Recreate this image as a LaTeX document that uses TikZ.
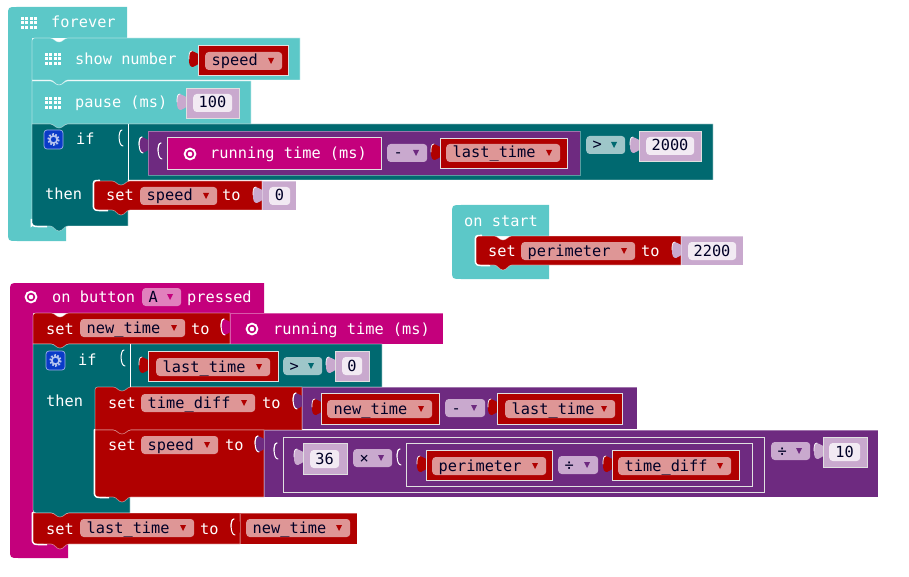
\documentclass[tikz,border=0pt]{standalone}
\usepackage{fontspec}
\setmainfont{DejaVu Sans Mono}
\usepackage{xcolor}
\usetikzlibrary{positioning,calc}

\definecolor{loopteal}{HTML}{5CC8C8}
\definecolor{logicteal}{HTML}{006970}
\definecolor{varred}{HTML}{B00000}
\definecolor{inputmag}{HTML}{C4007C}
\definecolor{mathpurple}{HTML}{6E2A80}
\definecolor{litlilac}{HTML}{C9A9CE}
\definecolor{gearblue}{HTML}{0A3BC8}
\definecolor{fieldred}{HTML}{DE9696}

\tikzset{
  lbl/.style={anchor=base west,inner sep=0pt,text=white,font=\fontsize{15.3}{18}\selectfont},
  fieldtxt/.style={lbl,text=black!85!blue},
  fieldbox/.style={rounded corners=3.5pt,minimum height=18pt,inner sep=0pt,anchor=west},
  valedge/.style={draw=white!88!black,line width=0.9pt},
  slotedge/.style={draw=white,draw opacity=0.35,line width=0.7pt},
  stmtedge/.style={draw=white,draw opacity=0.45,line width=0.7pt}
}

% statement block: colour, x1, y1, x2, y2, top radius, bottom radius
\newcommand{\stmtblock}[7]{
  \path[fill=#1,stmtedge] (#2,#5-#7) -- (#2,#3+#6) .. controls (#2,#3) .. (#2+#6,#3) -- (#2+18,#3)
    .. controls (#2+22,#3) and (#2+23,#3+4) .. (#2+27,#3+4) .. controls (#2+31,#3+4) and (#2+32,#3) .. (#2+36,#3)
    -- (#4,#3) -- (#4,#5) -- (#2+36,#5)
    .. controls (#2+32,#5) and (#2+31,#5+5) .. (#2+27,#5+5) .. controls (#2+23,#5+5) and (#2+22,#5) .. (#2+18,#5)
    -- (#2+#7,#5) .. controls (#2,#5) .. (#2,#5-#7) -- cycle;
}
% white rim on a left side
\newcommand{\leftrim}[5]{
  \draw[white,line width=1.4pt] (#1+#4,#2-0.6) .. controls (#1-0.7,#2-0.6) .. (#1-0.7,#2+#4) -- (#1-0.7,#3-#5)
    .. controls (#1-0.7,#3+0.7) .. (#1+#5+8,#3+0.7);
}
% puzzle bump on the left of a value
\newcommand{\bump}[3]{
  \fill[#1] (#2+0.5,#3+9) .. controls (#2-2,#3+9) and (#2-3,#3+6) .. (#2-6,#3+6)
    .. controls (#2-9,#3+6) and (#2-9,#3+10) .. (#2-9,#3+14)
    .. controls (#2-9,#3+20) and (#2-8,#3+22) .. (#2-5,#3+22)
    .. controls (#2-2,#3+22) and (#2-2,#3+19) .. (#2+0.5,#3+19) -- cycle;
  \draw[white,line width=0.7pt,line cap=round] (#2-6,#3+6) .. controls (#2-9,#3+6) and (#2-9,#3+10) .. (#2-9,#3+14);
}
\newcommand{\ghostarc}[2]{
  \draw[white,line width=1pt,line cap=round] (#1-6,#2+6) .. controls (#1-10,#2+6) and (#1-10,#2+22) .. (#1-5,#2+22);
}
\newcommand{\valblock}[6][valedge]{
  \bump{#2}{#3}{#4}
  \path[fill=#2,#1] (#3,#4) rectangle (#5,#6);
}
\newcommand{\hatblock}[9]{
  \fill[#1] (#2+9,#3) -- (#4,#3) -- (#4,#5) -- (#6,#5) -- (#6,#7) -- (#8,#7) -- (#8,#9) -- (#2+9,#9)
    .. controls (#2,#9) .. (#2,#9-9) -- (#2,#3+9) .. controls (#2,#3) .. (#2+9,#3) -- cycle;
}
% if block: x1, y1, right end, column right, row bottom, block bottom
\newcommand{\ifblock}[6]{
  \path[fill=logicteal,stmtedge] (#1,#6-7) -- (#1,#2) -- (#1+18,#2)
    .. controls (#1+22,#2) and (#1+23,#2+4) .. (#1+27,#2+4) .. controls (#1+31,#2+4) and (#1+32,#2) .. (#1+36,#2)
    -- (#3,#2) -- (#3,#5) -- (#4,#5) -- (#4,#6) -- (#1+36,#6)
    .. controls (#1+32,#6) and (#1+31,#6+5) .. (#1+27,#6+5) .. controls (#1+23,#6+5) and (#1+22,#6) .. (#1+18,#6)
    -- (#1+7,#6) .. controls (#1,#6) .. (#1,#6-7) -- cycle;
  \draw[white,line width=0.9pt] (#4,#2) -- (#4,#5);
  \ghostarc{#4}{#2}
}
% dropdown: name, x1, x2, y centre, fill, arrow colour, text
\newcommand{\ddfield}[7]{
  \node[fieldbox,fill=#5,minimum width=#3pt-#2pt] (#1) at (#2,#4) {};
  \node[fieldtxt] (#1txt) at (#2+6.5,#4+5) {#7};
  \fill[#6] (#3-14,#4-3) -- (#3-8,#4-3) -- (#3-11,#4+3) -- cycle;
}
\newcommand{\litfield}[5]{
  \node[fieldbox,fill=white!75!litlilac,minimum width=#3pt-#2pt] (#1) at (#2,#4) {};
  \node[fieldtxt,anchor=base] (#1txt) at (#2/2+#3/2,#4+5) {#5};
}
\newcommand{\gridicon}[2]{
  \foreach \gx in {0,1,2,3} \foreach \gy in {0,1,2}
    \fill[white] (#1+\gx*4.3,#2+\gy*4.3) rectangle ++(3.1,3.1);
}
\newcommand{\ringicon}[2]{
  \draw[white,line width=1.9pt] (#1,#2) circle (5.4);
  \fill[white] (#1,#2) circle (2.3);
}
\newcommand{\gearicon}[2]{
  \fill[gearblue,draw=white!60!gearblue,line width=0.7pt,rounded corners=3pt] (#1,#2) rectangle ++(19,19);
  \draw[white!70!gearblue,line width=2.2pt,dash pattern=on 1.8pt off 1.4pt] (#1+9.5,#2+9.5) circle (5.2);
  \draw[white!70!gearblue,line width=1.6pt] (#1+9.5,#2+9.5) circle (3.6);
}

\begin{document}
\begin{tikzpicture}[x=1pt,y=-1pt]
\useasboundingbox (0,0) rectangle (909,577);

\hatblock{loopteal}{8}{7}{127}{38}{32}{226}{66}{241}
\hatblock{loopteal}{452}{205}{549}{236}{476}{265}{549}{279}
\hatblock{inputmag}{10}{283}{264}{313}{33}{544}{68}{558}

\gridicon{21}{17}
\node[lbl] (foreverlbl) at (51,28) {forever};

\stmtblock{loopteal}{32}{38}{300}{80}{6}{0}
\gridicon{45}{53}
\node[lbl] (shownum) at (75,65) {show number};
\valblock{varred}{198}{45}{288}{75}
\ddfield{speedA}{205}{282}{61}{fieldred}{varred}{speed}

\stmtblock{loopteal}{32}{81}{251}{124}{0}{0}
\gridicon{45}{97}
\node[lbl] (pauselbl) at (75,108) {pause (ms)};
\valblock{litlilac}{186}{88}{239}{118}
\litfield{hundred}{193}{232}{103}{100}

\ifblock{32}{124}{713}{128}{180}{226}
\leftrim{32}{226}{226}{0}{7}
\gearicon{44}{130}
\node[lbl] (ifa) at (76,145) {if};
\node[lbl] (thena) at (45,200) {then};
\valblock[slotedge]{mathpurple}{148}{131}{580}{175}
\ghostarc{148}{131}
\bump{mathpurple}{167}{137}
\ghostarc{167}{137}
\path[fill=inputmag,valedge] (167,137) rectangle (381,169);
\ringicon{190}{154}
\node[lbl] (runa) at (210,159) {running time (ms)};
\ddfield{minusa}{387}{427}{153}{litlilac}{mathpurple}{-}
\valblock{varred}{440}{138}{567}{168}
\ddfield{lasta}{446}{560}{153}{fieldred}{varred}{last\_time}
\ddfield{gta}{586}{625}{145}{white!62!logicteal}{logicteal}{>}
\valblock{litlilac}{639}{131}{701}{161}
\litfield{twothousand}{646}{694}{146}{2000}

\stmtblock{varred}{94}{181}{262}{210}{6}{6}
\leftrim{94}{181}{210}{6}{6}
\node[lbl] (seta) at (106,201) {set};
\ddfield{speedB}{140}{217}{196}{fieldred}{varred}{speed}
\node[lbl] (toa) at (222,201) {to};
\valblock[slotedge]{litlilac}{262}{181}{296}{210}
\litfield{zeroa}{269}{290}{196}{0}

\node[lbl] (onstart) at (464,226) {on start};
\stmtblock{varred}{476}{236}{681}{265}{6}{6}
\leftrim{476}{236}{265}{6}{6}
\node[lbl] (setb) at (488,256) {set};
\ddfield{perimA}{521}{635}{251}{fieldred}{varred}{perimeter}
\node[lbl] (tob) at (641,256) {to};
\valblock[slotedge]{litlilac}{681}{236}{743}{265}
\litfield{twotwo}{688}{736}{251}{2200}

\ringicon{31}{297}
\node[lbl] (onbutton) at (52,302) {on button};
\ddfield{btnA}{142}{181}{297}{white!50!inputmag}{inputmag}{A}
\node[lbl] (pressed) at (187,302) {pressed};

\stmtblock{varred}{33}{313}{230}{344}{6}{0}
\node[lbl] (setc) at (46,334) {set};
\ddfield{newA}{80}{185}{328}{fieldred}{varred}{new\_time}
\node[lbl] (toc) at (191,334) {to};
\valblock[slotedge]{inputmag}{230}{313}{443}{344}
\ghostarc{230}{313}
\ringicon{252}{329}
\node[lbl] (runb) at (273,334) {running time (ms)};

\ifblock{33}{344}{382}{130}{387}{513}
\gearicon{46}{351}
\node[lbl] (ifb) at (78,365) {if};
\node[lbl] (thenb) at (46,406) {then};
\valblock{varred}{148}{351}{278}{381}
\ddfield{lastb}{156}{270}{367}{fieldred}{varred}{last\_time}
\ddfield{gtb}{283}{322}{366}{white!62!logicteal}{logicteal}{>}
\valblock{litlilac}{335}{351}{369}{381}
\litfield{zerob}{342}{362}{366}{0}

\stmtblock{varred}{95}{387}{302}{430}{6}{0}
\node[lbl] (setd) at (108,408) {set};
\ddfield{timeA}{141}{255}{403}{fieldred}{varred}{time\_diff}
\node[lbl] (tod) at (262,408) {to};
\valblock[slotedge]{mathpurple}{302}{387}{637}{429}
\ghostarc{302}{387}
\valblock{varred}{321}{393}{439}{424}
\ddfield{newB}{327}{432}{409}{fieldred}{varred}{new\_time}
\ddfield{minusb}{445}{485}{408}{litlilac}{mathpurple}{-}
\valblock{varred}{497}{393}{622}{424}
\ddfield{lastc}{505}{615}{409}{fieldred}{varred}{last\_time}

\stmtblock{varred}{95}{430}{264}{497}{0}{6}
\leftrim{95}{430}{497}{0}{6}
\node[lbl] (sete) at (108,450) {set};
\ddfield{speedC}{141}{218}{445}{fieldred}{varred}{speed}
\node[lbl] (toe) at (225,450) {to};
\valblock[slotedge]{mathpurple}{264}{430}{878}{497}
\ghostarc{264}{430}
\valblock{mathpurple}{283}{437}{764}{492}
\ghostarc{283}{437}
\valblock{litlilac}{303}{443}{347}{474}
\litfield{thirtysix}{310}{339}{459}{36}
\ddfield{timesa}{353}{392}{458}{litlilac}{mathpurple}{×}
\valblock{mathpurple}{406}{443}{752}{486}
\ghostarc{406}{443}
\valblock{varred}{426}{450}{552}{480}
\ddfield{perimB}{432}{546}{466}{fieldred}{varred}{perimeter}
\ddfield{diva}{558}{598}{465}{litlilac}{mathpurple}{÷}
\valblock{varred}{612}{450}{739}{480}
\ddfield{timeB}{618}{731}{466}{fieldred}{varred}{time\_diff}
\ddfield{divb}{771}{810}{451}{litlilac}{mathpurple}{÷}
\valblock{litlilac}{823}{437}{867}{467}
\litfield{ten}{829}{860}{452}{10}

\stmtblock{varred}{33}{513}{240}{544}{0}{6}
\leftrim{33}{513}{544}{0}{6}
\node[lbl] (setf) at (46,534) {set};
\ddfield{lastd}{80}{194}{528}{fieldred}{varred}{last\_time}
\node[lbl] (tof) at (200,534) {to};
\valblock[slotedge]{varred}{240}{513}{357}{544}
\ghostarc{240}{513}
\ddfield{newC}{246}{350}{528}{fieldred}{varred}{new\_time}
\end{tikzpicture}
\end{document}
